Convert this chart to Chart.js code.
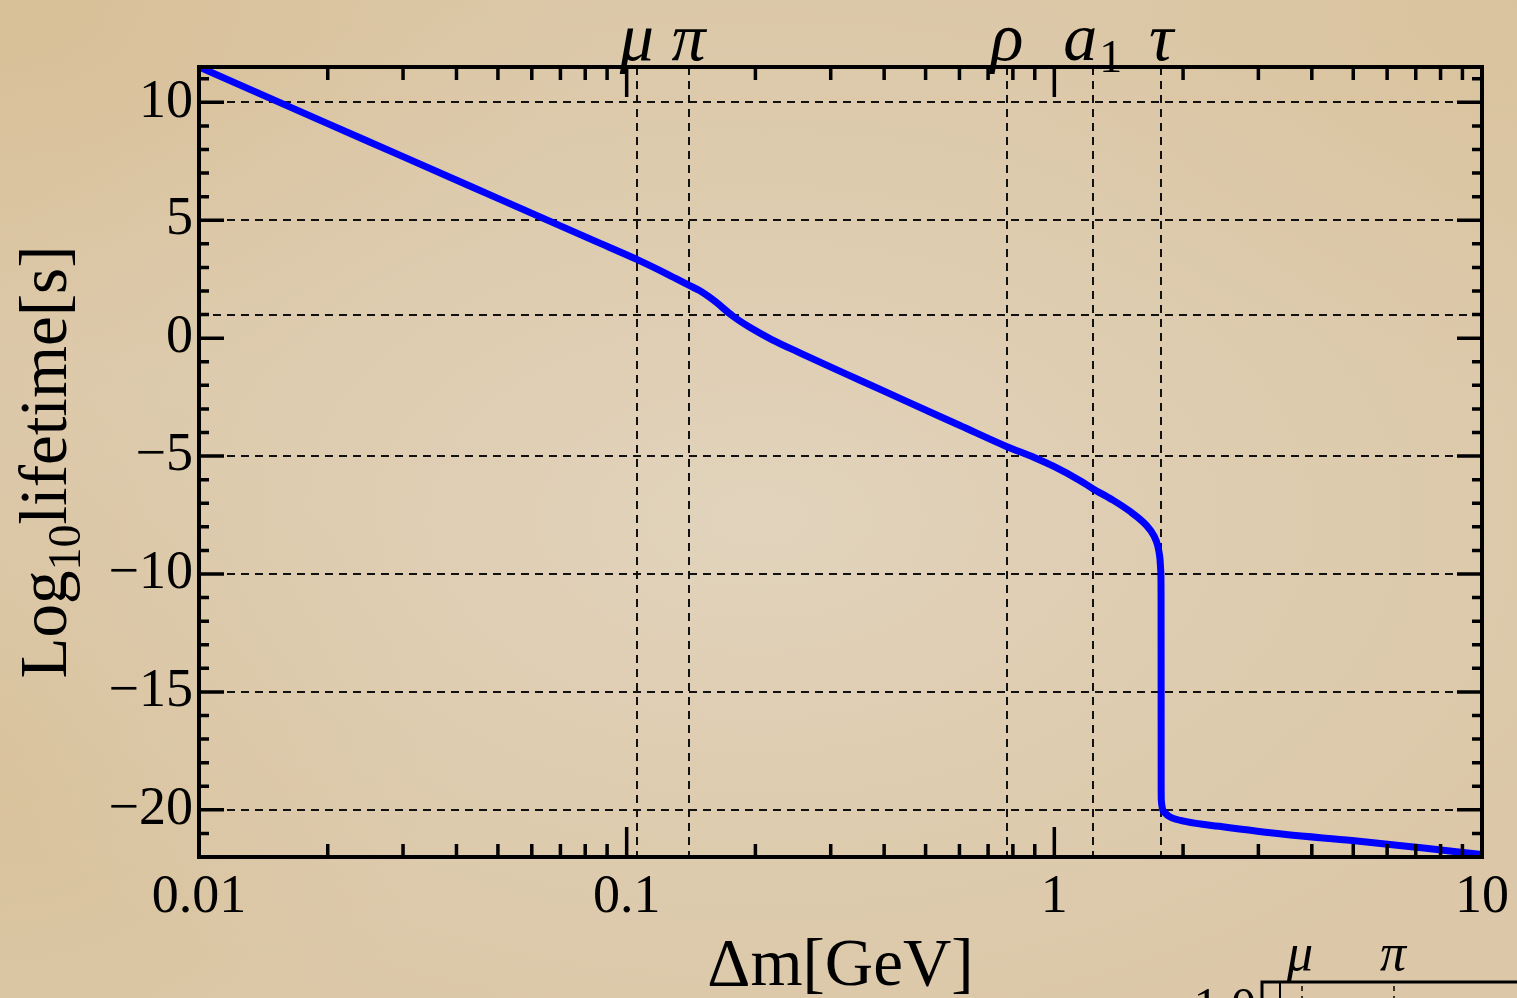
<!DOCTYPE html>
<html>
<head>
<meta charset="utf-8">
<title>Lifetime vs mass splitting</title>
<script src="https://cdn.jsdelivr.net/npm/chart.js@4.4.1/dist/chart.umd.min.js"></script>
<style>
  html, body { margin: 0; padding: 0; overflow: hidden; }
  body {
    width: 1517px; height: 998px;
    background:
      radial-gradient(ellipse 60% 55% at 50% 52%, rgba(226,212,190,0.95) 0%, rgba(224,208,183,0.6) 45%, rgba(220,200,170,0) 100%),
      radial-gradient(ellipse 40% 40% at 0% 0%, rgba(212,184,136,0.5) 0%, rgba(212,184,136,0) 100%),
      radial-gradient(ellipse 35% 40% at 100% 0%, rgba(214,188,144,0.4) 0%, rgba(214,188,144,0) 100%),
      radial-gradient(ellipse 30% 40% at 0% 75%, rgba(212,186,140,0.45) 0%, rgba(212,186,140,0) 100%),
      #dcc8a8;
  }
  #wrap { position: absolute; left: 0; top: 0; width: 1517px; height: 998px; }
</style>
</head>
<body>
<div id="wrap"><canvas id="c"></canvas></div>
<script>
// Mass splitting Δm [GeV] and log10 of the lifetime [s]
const deltaM = [
  0.01, 0.02, 0.03, 0.05, 0.0865, 0.1062, 0.125, 0.1397, 0.148, 0.155, 0.162,
  0.177, 0.194, 0.219, 0.254, 0.303, 0.35, 0.45, 0.6, 0.775, 0.9, 1.0, 1.144,
  1.23, 1.366, 1.496, 1.64, 1.712, 1.745, 1.765, 1.774, 1.7765, 1.777, 1.7775,
  1.779, 1.79, 1.82, 1.857, 2.035, 2.43, 3.48, 4.97, 7.13, 10
];
const log10Lifetime = [
  11.5, 9.1, 7.7, 5.93, 4.03, 3.32, 2.7, 2.25, 2.02, 1.78, 1.52,
  0.94, 0.46, -0.07, -0.62, -1.26, -1.77, -2.67, -3.69, -4.6, -5.07, -5.45, -6.02,
  -6.38, -6.85, -7.32, -7.93, -8.4, -8.8, -9.3, -9.9, -11, -15, -19,
  -19.6, -19.95, -20.15, -20.28, -20.5, -20.7, -21.05, -21.3, -21.6, -21.9
];

// Axis ticks
const xTickValues = [0.01, 0.1, 1, 10];
const yTickValues = [10, 5, 0, -5, -10, -15, -20];

// Dashed reference lines
const gridYValues = [10, 5, 1, -5, -10, -15, -20];
const particleSymbols = ['μ', 'π', 'ρ', 'a', 'τ'];
const particleSubscripts = ['', '', '', '1', ''];
const particleMasses = [0.10566, 0.13957, 0.77526, 1.230, 1.77686];

const SERIF = '"Liberation Serif", "Times New Roman", serif';

const framePlugin = {
  id: 'framePlugin',
  beforeDatasetsDraw(chart) {
    const { ctx, chartArea: a, scales: { x, y } } = chart;
    ctx.save();
    ctx.setLineDash([8, 6]);
    ctx.lineWidth = 2;
    ctx.strokeStyle = '#111';
    gridYValues.forEach(v => {
      const py = Math.round(y.getPixelForValue(v));
      ctx.beginPath(); ctx.moveTo(a.left, py); ctx.lineTo(a.right, py); ctx.stroke();
    });
    particleMasses.forEach(m => {
      const px = Math.round(x.getPixelForValue(m));
      ctx.beginPath(); ctx.moveTo(px, a.top); ctx.lineTo(px, a.bottom); ctx.stroke();
    });
    ctx.restore();
  },
  afterDatasetsDraw(chart) {
    const { ctx, chartArea: a, scales: { x, y } } = chart;
    ctx.save();
    ctx.setLineDash([]);
    ctx.strokeStyle = '#000';
    ctx.lineWidth = 3.5;
    ctx.lineCap = 'butt';

    // inward ticks, left/right
    for (let v = Math.ceil(y.min); v <= Math.floor(y.max); v++) {
      const py = y.getPixelForValue(v);
      if (Math.abs(py - a.bottom) < 2 || Math.abs(py - a.top) < 2) continue;
      const len = v % 5 === 0 ? 25 : 10;
      ctx.beginPath();
      ctx.moveTo(a.left, py); ctx.lineTo(a.left + len, py);
      ctx.moveTo(a.right, py); ctx.lineTo(a.right - len, py);
      ctx.stroke();
    }
    // inward ticks, top/bottom
    [0.01, 0.1, 1].forEach(d => {
      for (let k = 1; k <= 9; k++) {
        const v = k * d;
        const px = x.getPixelForValue(v);
        if (Math.abs(px - a.left) < 2 || Math.abs(px - a.right) < 2) continue;
        const len = k === 1 ? 30 : 13;
        ctx.beginPath();
        ctx.moveTo(px, a.bottom); ctx.lineTo(px, a.bottom - len);
        ctx.moveTo(px, a.top); ctx.lineTo(px, a.top + len);
        ctx.stroke();
      }
    });
    // frame
    ctx.lineWidth = 4;
    ctx.strokeRect(a.left, a.top, a.right - a.left, a.bottom - a.top);

    // particle labels along the top edge
    ctx.fillStyle = '#000';
    ctx.textBaseline = 'alphabetic';
    particleSymbols.forEach((s, i) => {
      const px = x.getPixelForValue(particleMasses[i]);
      const sub = particleSubscripts[i];
      ctx.font = 'italic 68px ' + SERIF;
      const w1 = ctx.measureText(s).width;
      let w2 = 0;
      if (sub) { ctx.font = '46px ' + SERIF; w2 = ctx.measureText(sub).width + 2; }
      const left = px - (w1 + w2) / 2;
      ctx.font = 'italic 68px ' + SERIF;
      ctx.textAlign = 'left';
      ctx.fillText(s, left, 60);
      if (sub) {
        ctx.font = '46px ' + SERIF;
        ctx.fillText(sub, left + w1 + 2, 72);
      }
    });

    // axis titles
    ctx.textAlign = 'center';
    ctx.font = '67px ' + SERIF;
    ctx.fillText('Δm[GeV]', (a.left + a.right) / 2, 985);

    ctx.save();
    ctx.translate(66, (a.top + a.bottom) / 2);
    ctx.rotate(-Math.PI / 2);
    const parts = [['Log', 67, 0], ['10', 46, 14], ['lifetime[s]', 67, 0]];
    let total = 0;
    parts.forEach(p => { ctx.font = p[1] + 'px ' + SERIF; total += ctx.measureText(p[0]).width; });
    let cx = -total / 2;
    ctx.textAlign = 'left';
    parts.forEach(p => {
      ctx.font = p[1] + 'px ' + SERIF;
      ctx.fillText(p[0], cx, p[2]);
      cx += ctx.measureText(p[0]).width;
    });
    ctx.restore();

    // neighbouring panel peeking in at the lower right
    ctx.lineWidth = 3;
    ctx.beginPath();
    ctx.moveTo(1262, 998); ctx.lineTo(1262, 982); ctx.lineTo(1517, 982);
    ctx.stroke();
    ctx.lineWidth = 2;
    ctx.beginPath(); ctx.moveTo(1280, 983); ctx.lineTo(1280, 998); ctx.stroke();
    ctx.setLineDash([5, 5]);
    ctx.lineWidth = 1.5;
    [1302, 1394].forEach(px => {
      ctx.beginPath(); ctx.moveTo(px, 986); ctx.lineTo(px, 998); ctx.stroke();
    });
    ctx.setLineDash([]);
    ctx.font = 'italic 52px ' + SERIF;
    ctx.textAlign = 'center';
    ctx.fillText('μ', 1300, 970);
    ctx.fillText('π', 1393, 970);
    ctx.font = '50px ' + SERIF;
    ctx.textAlign = 'right';
    ctx.fillText('1.0', 1256, 1022);
    ctx.restore();
  }
};

const fmtY = v => (v < 0 ? '\u2212' + Math.abs(v) : String(v));
const fmtX = v => String(+v.toPrecision(3));

new Chart(document.getElementById('c'), {
  type: 'line',
  data: {
    datasets: [{
      data: deltaM.map((m, i) => ({ x: m, y: log10Lifetime[i] })),
      borderColor: '#0000ff',
      borderWidth: 7,
      pointRadius: 0,
      cubicInterpolationMode: 'monotone',
      fill: false,
      clip: 0
    }]
  },
  options: {
    responsive: true,
    maintainAspectRatio: false,
    animation: false,
    events: [],
    layout: { padding: { left: 0, top: 67, right: 34, bottom: 0 } },
    plugins: { legend: { display: false }, tooltip: { enabled: false } },
    scales: {
      x: {
        type: 'logarithmic',
        min: 0.01, max: 10,
        border: { display: false },
        grid: { display: false, drawTicks: false },
        afterBuildTicks: s => { s.ticks = xTickValues.map(v => ({ value: v })); },
        afterFit: s => { s.height = 141; },
        ticks: {
          autoSkip: false, maxRotation: 0, minRotation: 0,
          padding: 8, color: '#000',
          font: { family: SERIF, size: 54 },
          callback: v => fmtX(v)
        }
      },
      y: {
        type: 'linear',
        min: -22, max: 11.5,
        border: { display: false },
        grid: { display: false, drawTicks: false },
        afterBuildTicks: s => { s.ticks = yTickValues.map(v => ({ value: v })); },
        afterFit: s => { s.width = 199; },
        ticks: {
          padding: 6, color: '#000',
          font: { family: SERIF, size: 54 },
          callback: v => fmtY(v)
        }
      }
    }
  },
  plugins: [framePlugin]
});
</script>
</body>
</html>
